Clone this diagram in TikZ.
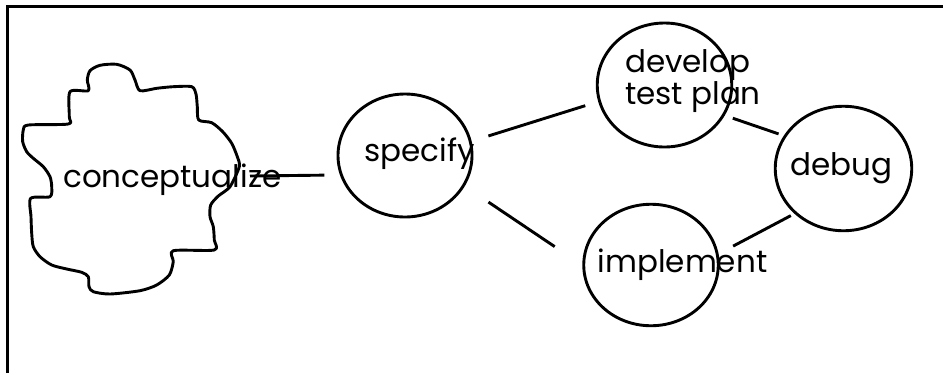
\documentclass[tikz,border=0pt]{standalone}
\usepackage{fontspec}
\setmainfont{Poppins}
\usetikzlibrary{shapes.geometric}
\begin{document}
\begin{tikzpicture}[x=1pt,y=-1pt,
  stage/.style={draw, ellipse, line width=2.9pt, inner sep=0pt, outer sep=0pt},
  wording/.style={anchor=base west, inner sep=0pt, align=left,
                  font=\fontsize{31}{30}\selectfont},
  link/.style={line width=2.9pt},
  frame/.style={line width=2.7pt}]
\useasboundingbox (0,0) rectangle (943,373);

% open frame: left and top edges
\draw[frame] (7.8,373) -- (7.8,6.2) -- (943,6.2);

% the idea stage, drawn as an irregular cloud
\draw[line width=2.9pt, line join=round]
  plot[smooth cycle, tension=0.45] coordinates {
  (88.3,90.7) (87.3,80) (90,70.7) (100,65.3) (116.7,64.3) (130,70) (135,80)
  (140,90.7) (156.7,88.3) (173.3,86.7) (191.7,86.7) (196,94) (197.3,106.7)
  (198.7,120) (211.7,122.7) (222.7,131.7) (231.7,143.3) (237.3,156.7)
  (239.3,166.7) (230,186.7) (218.3,196) (210.7,205) (210,216.7) (213.3,226.7)
  (214.3,240) (214.3,250) (173.3,250.7) (173.3,261.7) (169.3,275) (156.7,285)
  (140,290.7) (110,294) (93.3,291.7) (89,286.7) (88.3,276.7) (81.7,272.3)
  (66.7,269) (51.7,265) (40,256.7) (33.3,246.7) (31.7,233.3) (31,216.7)
  (30.7,198.3) (50,196.7) (51.7,186.7) (50,176.7) (43.3,166.7) (33.3,158.3)
  (26.7,151.7) (22.7,141.7) (23.3,130) (28.3,125) (68.3,124) (69.3,116.7)
  (70,91.7)};

% stages
\node[stage, minimum width=134pt, minimum height=123pt] (spec) at (405,155.5) {};
\node[stage, minimum width=134.5pt, minimum height=124pt] (dev) at (664.5,85) {};
\node[stage, minimum width=136.5pt, minimum height=124.5pt] (debug) at (843.5,168.5) {};
\node[stage, minimum width=134.5pt, minimum height=121.5pt] (impl) at (651,265) {};

% stage names (base anchor of the two-line name sits on its last line)
\node[wording] (conceptText) at (63,187) {conceptualize};
\node[wording] (specText) at (364,161.7) {specify};
\node[wording] (devText) at (625,104) {develop\\test plan};
\node[wording] (debugText) at (790,175) {debug};
\node[wording] (implText) at (597.5,272) {implement};

% links between stages
\coordinate (tail) at (250,176);
\draw[link, shorten >=17pt] (tail) -- (spec.197.8);
\draw[link, shorten <=19pt, shorten >=15pt] (spec.12.9) -- (dev.194.2);
\draw[link, shorten <=10pt, shorten >=7pt] (dev.-27.1) -- (debug.151.9);
\draw[link, shorten <=30pt, shorten >=35pt] (spec.-27.8) -- (impl.181.2);
\draw[link, shorten <=18pt, shorten >=5.6pt] (impl.9) -- (debug.223.1);
\end{tikzpicture}
\end{document}
